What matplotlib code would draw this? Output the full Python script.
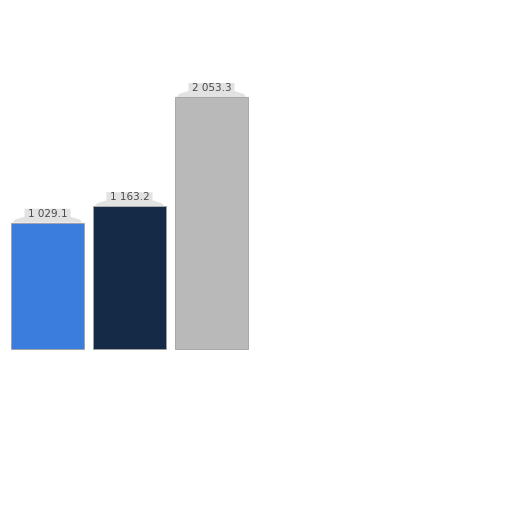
import matplotlib.pyplot as plt
from matplotlib.patches import Polygon

categories = ["A", "B", "C"]
values = [1029.1, 1163.2, 2053.3]
labels = ["1 029.1", "1 163.2", "2 053.3"]
colors = ["#3a7ddd", "#142a47", "#b9b9b9"]

fig = plt.figure(figsize=(5.12, 5.12), dpi=100)
# axes span the full width; xlim puts the bars in the left half like the original
ax = fig.add_axes([0.0, 163 / 512, 1.0, 252 / 512])
x = list(range(len(values)))
bars = ax.bar(x, values, width=0.89, color=colors, edgecolor="#a0a0a0", linewidth=0.6, clip_on=False)
ax.set_xlim(-47.5 / 82, (512 - 47.5) / 82)
ax.set_ylim(0, max(values))
ax.axis("off")

upx = max(values) / 252  # data units per pixel
for b, lab in zip(bars, labels):
    cx = b.get_x() + b.get_width() / 2
    top = b.get_height()
    l, r = b.get_x() + 0.02, b.get_x() + b.get_width() - 0.02
    # light grey cap that narrows from the bar top towards the label
    cap = Polygon([(l, top), (r, top), (r - 0.03, top + 3 * upx), (cx + 0.28, top + 6 * upx),
                   (cx + 0.28, top + 14 * upx), (cx - 0.28, top + 14 * upx),
                   (cx - 0.28, top + 6 * upx), (l + 0.03, top + 3 * upx)],
                  closed=True, facecolor="#e2e2e2", edgecolor="none", clip_on=False, zorder=3)
    ax.add_patch(cap)
    ax.annotate(lab, (cx, top), xytext=(0, 6.5), textcoords="offset points", ha="center", va="center",
                fontsize=7.5, color="#4a4a4a", zorder=4)

fig.savefig("out.png", dpi=100)
